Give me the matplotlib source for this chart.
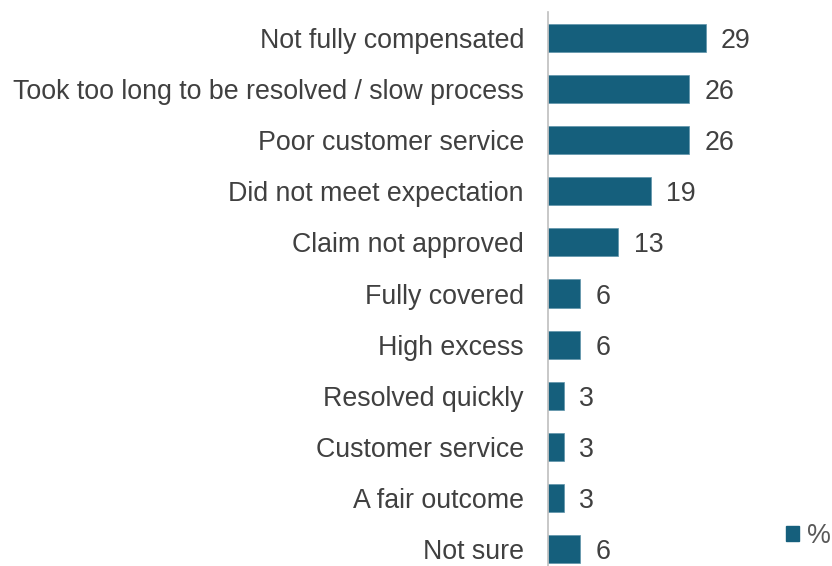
import matplotlib
matplotlib.use("Agg")
import matplotlib.pyplot as plt
from matplotlib.patches import Patch

categories = [
    "Not fully compensated",
    "Took too long to be resolved / slow process",
    "Poor customer service",
    "Did not meet expectation",
    "Claim not approved",
    "Fully covered",
    "High excess",
    "Resolved quickly",
    "Customer service",
    "A fair outcome",
    "Not sure",
]
values = [29, 26, 26, 19, 13, 6, 6, 3, 3, 3, 6]
series_name = "%"

bar_color = "#155F7C"
text_color = "#404040"

plt.rcParams["font.family"] = ["Liberation Sans", "DejaVu Sans"]

W, H = 832, 566
fig = plt.figure(figsize=(W / 100, H / 100), dpi=100)

# axes placed in pixel terms
left_px, right_px = 547.5, 832
top_px, bottom_px = 12.5, 574.5
ax = fig.add_axes([left_px / W, (H - bottom_px) / H,
                   (right_px - left_px) / W, (bottom_px - top_px) / H])

y = list(range(len(categories)))
ax.barh(y, values, height=0.55, color=bar_color, edgecolor="#5E93AA", linewidth=0.5)
ax.set_ylim(len(categories) - 0.5, -0.5)
ax.set_xlim(0, (right_px - left_px) / 5.45)

for yi, v in zip(y, values):
    ax.annotate(str(v), (v, yi), xytext=(11, 0), textcoords="offset points",
                ha="left", va="center_baseline", fontsize=19.25, color=text_color)

ax.set_yticks(y)
ax.set_yticklabels(categories, fontsize=19.25, color=text_color)
for lbl in ax.get_yticklabels():
    lbl.set_verticalalignment("center_baseline")
ax.tick_params(axis="y", length=0, pad=17)
ax.set_xticks([])

for s in ["top", "right", "bottom"]:
    ax.spines[s].set_visible(False)
ax.spines["left"].set_color("#BFBFBF")
ax.spines["left"].set_linewidth(1.2)

handle = Patch(facecolor=bar_color, edgecolor=bar_color, label=series_name)
fig.legend(handles=[handle], loc="center left", bbox_to_anchor=(786 / W, 1 - 536 / H),
           frameon=False, fontsize=19.25, handlelength=0.5, handleheight=0.5,
           handletextpad=0.3, labelcolor="#595959", borderpad=0, borderaxespad=0)

fig.savefig("out.png", dpi=100)
